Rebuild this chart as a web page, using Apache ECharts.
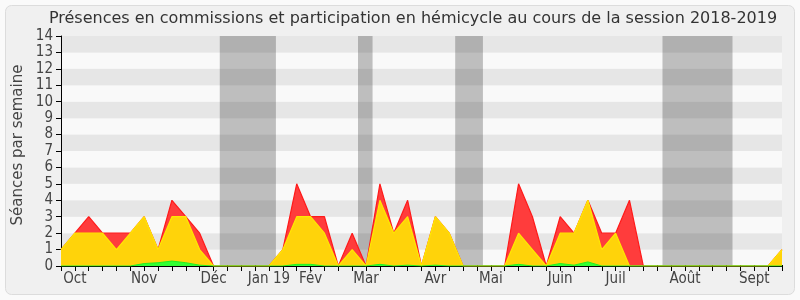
<!DOCTYPE html>
<html><head><meta charset="utf-8">
<script src="https://cdn.jsdelivr.net/npm/echarts@6/dist/echarts.min.js"></script>
<style>html,body{margin:0;padding:0;background:#fafafa}#c{width:800px;height:300px}</style>
</head><body><div id="c"></div>
<script>
// Weekly data, week index 0..52 (session Oct 2018 - Sept 2019)
const totalSeances = [1,2,3,2,2,2,3,1,4,3,2,0,0,0,0,0,1,5,3,3,0,2,0,5,2,4,0,3,2,0,0,0,0,5,3,0,3,2,4,2,2,4,0,0,0,0,0,0,0,0,0,0,1];
const commissions  = [1,2,2,2,1,2,3,1,3,3,1,0,0,0,0,0,1,3,3,2,0,1,0,4,2,3,0,3,2,0,0,0,0,2,1,0,2,2,4,1,2,0,0,0,0,0,0,0,0,0,0,0,1];
const hemicycle    = [0,0,0,0,0,0,0.15,0.2,0.3,0.2,0.05,0,0,0,0,0,0,0.1,0.1,0,0,0,0,0.1,0,0.05,0,0.05,0,0,0,0,0,0.1,0,0,0.15,0.05,0.25,0,0,0,0,0,0,0,0,0,0,0,0,0,0];
// Month labels keyed by week index
const monthWeeks  = [1,6,11,15,18,22,27,31,36,40,45,50];
const monthLabels = ['Oct','Nov','Déc','Jan 19','Fév','Mar','Avr','Mai','Juin','Juil','Août','Sept'];
// Parliamentary breaks, in week units
const vacances = [[11.45,15.5],[21.42,22.47],[28.43,30.43],[43.38,48.43]];
const yTicks = [0,1,2,3,4,5,6,7,8,9,10,11,12,13,14];

const FONT = "'DejaVu Sans Condensed','DejaVu Sans',sans-serif";
const FONT_R = "'DejaVu Sans',sans-serif";
const labelMap = {};
monthWeeks.forEach((w,i)=>labelMap[w]=monthLabels[i]);
const pairs = arr => arr.map((v,i)=>[i,v]);

const chart = echarts.init(document.getElementById('c'), null, {renderer:'canvas'});
chart.setOption({
  animation:false,
  backgroundColor:'#fafafa',
  graphic:[
    {type:'rect', z:-10, shape:{x:5.5,y:5.5,width:789,height:289,r:6}, style:{fill:'#f0f0f0',stroke:'#dcdcdc',lineWidth:1}},
    {type:'text', z:10, x:413, y:11, style:{text:'Présences en commissions et participation en hémicycle au cours de la session 2018-2019', font:"16px "+FONT_R, fill:'#333', align:'center', verticalAlign:'top'}},
    {type:'text', z:10, x:10.5, y:145, rotation:Math.PI/2, style:{text:'Séances par semaine', font:"15px "+FONT_R, fill:'#444', align:'center', verticalAlign:'top'}}
  ],
  grid:{left:61, right:18, top:36, bottom:34, show:false},
  xAxis:[{
    type:'value', min:0, max:52, interval:1, position:'bottom',
    axisLine:{show:true, onZero:false, lineStyle:{color:'#000', width:1}},
    axisTick:{show:true, length:5, lineStyle:{color:'#000'}},
    axisLabel:{margin:6, color:'#444', fontSize:15, fontFamily:FONT, formatter:v=>labelMap[v]||'', hideOverlap:false},
    splitLine:{show:false}
  },{
    type:'value', min:0, max:52, interval:1, position:'top',
    axisLine:{show:false}, axisTick:{show:true, length:1, lineStyle:{color:'#000'}},
    axisLabel:{show:false}, splitLine:{show:false}
  }],
  yAxis:{
    type:'value', min:0, max:14, interval:1,
    axisLine:{show:true, lineStyle:{color:'#000'}},
    axisTick:{show:true, length:5, lineStyle:{color:'#000'}},
    axisLabel:{margin:8, color:'#444', fontSize:15, fontFamily:FONT, formatter:v=>yTicks.includes(v)?String(v):''},
    splitLine:{show:false},
    splitArea:{show:true, areaStyle:{color:['#f9f9f9','#e6e6e6']}}
  },
  series:[
    {type:'line', z:1, data:[], silent:true,
     markArea:{silent:true, itemStyle:{color:'rgba(0,0,0,0.235)'}, data:vacances.map(v=>[{xAxis:v[0]},{xAxis:v[1]}])}},
    {type:'line', z:3, data:pairs(totalSeances), symbol:'none', lineStyle:{color:'#ff1a1a', width:1.2}, areaStyle:{color:'#ff3c3c', opacity:1}},
    {type:'line', z:4, data:pairs(commissions), symbol:'none', lineStyle:{color:'#ffe800', width:1.2}, areaStyle:{color:'#ffd30a', opacity:1}},
    {type:'line', z:5, data:pairs(hemicycle), symbol:'none', lineStyle:{color:'#22ee22', width:1}, areaStyle:{color:'#33ff33', opacity:1}}
  ]
});
</script></body></html>
